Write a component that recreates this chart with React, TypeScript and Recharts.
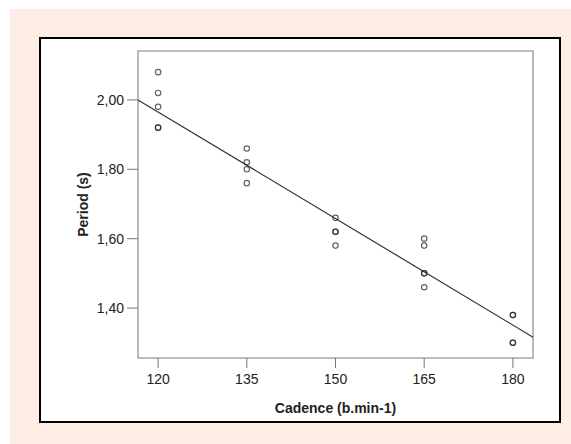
import React from "react"
import {
  ScatterChart,
  Scatter,
  XAxis,
  YAxis,
  ReferenceArea,
  ReferenceLine,
} from "recharts"

// Observations: cadence (b.min-1) and stride period (s); repeated rows overlap
const cadence = [
  120, 120, 120, 120, 120,
  135, 135, 135, 135,
  150, 150, 150, 150,
  165, 165, 165, 165, 165,
  180, 180, 180, 180,
]
const period = [
  2.08, 2.02, 1.98, 1.92, 1.92,
  1.86, 1.82, 1.8, 1.76,
  1.66, 1.62, 1.62, 1.58,
  1.6, 1.58, 1.5, 1.5, 1.46,
  1.38, 1.38, 1.3, 1.3,
]

// Fitted regression line, across the full x range of the frame
const fitCadence = [116.6, 183.4]
const fitPeriod = [2.0, 1.316]

const xTicks = [120, 135, 150, 165, 180]
const yTicks = [1.4, 1.6, 1.8, 2.0]
const xDomain = [116.6, 183.4]
const yDomain = [1.256, 2.141]

const points = cadence.map((c, i) => ({ cadence: c, period: period[i] }))

const FONT = "'Liberation Sans', Arial, sans-serif"
const TEXT = "#222"

const OpenCircle = (props: any) => (
  <circle
    cx={props.cx}
    cy={props.cy}
    r={2.7}
    fill="none"
    stroke="#222"
    strokeOpacity={0.7}
    strokeWidth={1.2}
  />
)

export default function App() {
  return (
    <div style={{ position: "absolute", left: 0, top: 0, width: 571, height: 444, background: "#fff" }}>
      <div style={{ position: "absolute", left: 10, top: 9, width: 561, height: 435, background: "#fdede4" }} />
      <div
        style={{
          position: "absolute",
          left: 39,
          top: 37,
          width: 522,
          height: 386,
          boxSizing: "border-box",
          border: "2px solid #000",
          background: "#fff",
        }}
      />
      <div style={{ position: "absolute", left: 0, top: 0 }}>
        <ScatterChart width={571} height={444} margin={{ top: 51, right: 38, bottom: 36, left: 78 }}>
          <XAxis
            type="number"
            dataKey="cadence"
            domain={xDomain}
            ticks={xTicks}
            allowDataOverflow
            height={50}
            tickSize={10}
            tickMargin={6}
            axisLine={false}
            tickLine={{ stroke: "#777" }}
            tick={{ fill: TEXT, fontSize: 14, fontFamily: FONT }}
            label={{
              content: ({ viewBox }: any) => (
                <text
                  x={viewBox.x + viewBox.width / 2}
                  y={viewBox.y + 55}
                  textAnchor="middle"
                  fill={TEXT}
                  fontSize={14}
                  fontWeight="bold"
                  fontFamily={FONT}
                >
                  Cadence (b.min-1)
                </text>
              ),
            }}
          />
          <YAxis
            type="number"
            dataKey="period"
            domain={yDomain}
            ticks={yTicks}
            allowDataOverflow
            width={60}
            tickSize={11}
            tickMargin={3}
            axisLine={false}
            tickLine={{ stroke: "#777" }}
            tick={{ fill: TEXT, fontSize: 14, fontFamily: FONT }}
            tickFormatter={(v: number) => v.toFixed(2).replace(".", ",")}
            label={{
              content: ({ viewBox }: any) => {
                const cx = viewBox.x + 10
                const cy = viewBox.y + viewBox.height / 2
                return (
                  <text
                    x={cx}
                    y={cy}
                    transform={`rotate(-90, ${cx}, ${cy})`}
                    textAnchor="middle"
                    fill={TEXT}
                    fontSize={14}
                    fontWeight="bold"
                    fontFamily={FONT}
                  >
                    Period (s)
                  </text>
                )
              },
            }}
          />
          <ReferenceArea
            x1={xDomain[0]}
            x2={xDomain[1]}
            y1={yDomain[0]}
            y2={yDomain[1]}
            fill="none"
            stroke="#a8a8a8"
            strokeWidth={1.6}
            ifOverflow="visible"
          />
          <ReferenceLine
            segment={[
              { x: fitCadence[0], y: fitPeriod[0] },
              { x: fitCadence[1], y: fitPeriod[1] },
            ]}
            stroke="#333"
            strokeWidth={1.2}
            ifOverflow="visible"
          />
          <Scatter data={points} shape={OpenCircle} isAnimationActive={false} />
        </ScatterChart>
      </div>
    </div>
  )
}
